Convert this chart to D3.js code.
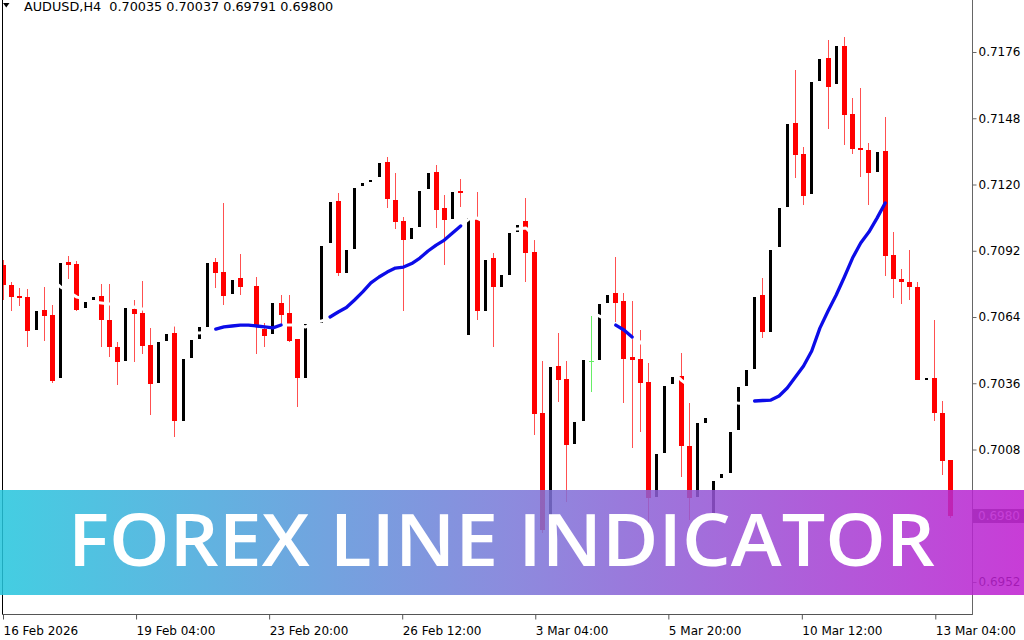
<!DOCTYPE html>
<html><head><meta charset="utf-8">
<script src="https://cdn.jsdelivr.net/npm/d3@7"></script>
<style>html,body{margin:0;padding:0;background:#fff;overflow:hidden}</style>
</head><body><svg id="c" width="1024" height="640"></svg>
<script>
const symbolLabel = "AUDUSD,H4";
const lastOHLC = ["0.70035","0.70037","0.69791","0.69800"];
const bannerText = "FOREX LINE INDICATOR";
const bidPrice = 0.69800;

const opens = [0.70860,0.70775,0.70729,0.70724,0.70585,0.70669,0.70648,0.70382,0.70872,0.70864,
 0.70678,0.70712,0.70729,0.70627,0.70513,0.70454,0.70674,0.70657,0.70522,0.70361,
 0.70539,0.70572,0.70200,0.70467,0.70547,0.70598,0.70872,0.70830,0.70737,0.70805,
 0.70767,0.70771,0.70589,0.70568,0.70699,0.70657,0.70547,0.70382,0.70610,0.70614,
 0.70953,0.71130,0.70826,0.70927,0.71194,0.71210,0.71232,0.71295,0.71134,0.71046,
 0.70970,0.71020,0.71181,0.71253,0.71101,0.71054,0.71172,0.70564,0.71054,0.70665,
 0.70889,0.70767,0.70817,0.70999,0.71046,0.70915,0.70234,0.69739,0.70433,0.70378,
 0.70103,0.70200,0.70454,0.70458,0.70699,0.70741,0.70707,0.70471,0.70462,0.70365,
 0.69879,0.70065,0.70357,0.70391,0.70095,0.69879,0.70192,0.69803,0.69959,0.69980,
 0.70162,0.70348,0.70420,0.70733,0.70576,0.70936,0.71105,0.71460,0.71329,0.71160,
 0.71637,0.71735,0.71625,0.71785,0.71498,0.71354,0.71346,0.71253,0.71342,0.70902,
 0.70800,0.70788,0.70767,0.70374,0.70382,0.70234,0.70035];
const highs = [0.70881,0.70788,0.70762,0.70758,0.70665,0.70767,0.70691,0.70868,0.70898,0.70877,
 0.70703,0.70724,0.70779,0.70779,0.70534,0.70678,0.70712,0.70792,0.70593,0.70534,
 0.70568,0.70614,0.70462,0.70543,0.70598,0.70868,0.70889,0.71122,0.70796,0.70906,
 0.70768,0.70809,0.70614,0.70699,0.70733,0.70733,0.70547,0.70610,0.70613,0.70940,
 0.71126,0.71164,0.70923,0.71185,0.71206,0.71219,0.71291,0.71316,0.71249,0.71063,
 0.71016,0.71172,0.71249,0.71282,0.71156,0.71168,0.71223,0.71058,0.71168,0.70881,
 0.70910,0.70817,0.70995,0.71029,0.71143,0.70965,0.70454,0.70428,0.70572,0.70454,
 0.70196,0.70458,0.70644,0.70695,0.70733,0.70893,0.70741,0.70707,0.70585,0.70445,
 0.70061,0.70348,0.70386,0.70488,0.70276,0.70192,0.70213,0.69947,0.69976,0.70154,
 0.70344,0.70416,0.70724,0.70805,0.70923,0.71101,0.71456,0.71684,0.71359,0.71633,
 0.71730,0.71811,0.71785,0.71823,0.71566,0.71608,0.71375,0.71337,0.71485,0.70999,
 0.70843,0.70923,0.70788,0.70382,0.70627,0.70285,0.70037];
const lows = [0.70712,0.70665,0.70686,0.70513,0.70585,0.70539,0.70361,0.70382,0.70800,0.70665,
 0.70678,0.70712,0.70513,0.70471,0.70352,0.70454,0.70450,0.70483,0.70226,0.70361,
 0.70539,0.70133,0.70200,0.70467,0.70547,0.70598,0.70762,0.70691,0.70737,0.70733,
 0.70767,0.70483,0.70513,0.70568,0.70606,0.70534,0.70259,0.70382,0.70610,0.70614,
 0.70953,0.70813,0.70826,0.70927,0.71194,0.71210,0.71232,0.71101,0.71012,0.70665,
 0.70970,0.71020,0.71181,0.71016,0.70860,0.71054,0.71105,0.70564,0.70627,0.70665,
 0.70513,0.70767,0.70817,0.70999,0.70788,0.70141,0.69727,0.69739,0.70281,0.69858,
 0.70103,0.70200,0.70323,0.70458,0.70699,0.70619,0.70276,0.70086,0.70154,0.69752,
 0.69879,0.70065,0.70357,0.69964,0.69782,0.69879,0.70192,0.69803,0.69959,0.69980,
 0.70162,0.70348,0.70420,0.70551,0.70576,0.70936,0.71105,0.71227,0.71113,0.71160,
 0.71637,0.71434,0.71625,0.71367,0.71329,0.71232,0.71113,0.71253,0.70813,0.70720,
 0.70695,0.70712,0.70374,0.70374,0.70200,0.69972,0.69791];
const closes = [0.70775,0.70724,0.70720,0.70581,0.70665,0.70644,0.70369,0.70868,0.70860,0.70669,
 0.70703,0.70724,0.70627,0.70513,0.70450,0.70678,0.70652,0.70517,0.70357,0.70534,
 0.70568,0.70200,0.70462,0.70543,0.70598,0.70868,0.70826,0.70729,0.70796,0.70767,
 0.70768,0.70598,0.70560,0.70699,0.70648,0.70539,0.70382,0.70610,0.70613,0.70940,
 0.71126,0.70826,0.70923,0.71185,0.71206,0.71219,0.71291,0.71139,0.71041,0.70965,
 0.71016,0.71172,0.71249,0.71092,0.71050,0.71168,0.71164,0.71058,0.70665,0.70881,
 0.70767,0.70817,0.70995,0.71029,0.70910,0.70230,0.69739,0.70428,0.70374,0.70099,
 0.70196,0.70458,0.70454,0.70695,0.70733,0.70699,0.70462,0.70458,0.70361,0.69875,
 0.70061,0.70348,0.70386,0.70095,0.69875,0.70192,0.70213,0.69947,0.69976,0.70154,
 0.70344,0.70416,0.70724,0.70576,0.70923,0.71101,0.71456,0.71325,0.71151,0.71633,
 0.71730,0.71612,0.71785,0.71494,0.71350,0.71346,0.71249,0.71337,0.70898,0.70800,
 0.70788,0.70767,0.70374,0.70382,0.70234,0.70031,0.69800];

// indicator line: "up" segments (blue) and neutral segments (white)
const lineWhite = [null,null,null,null,null,null,
 0.70796,0.70767,0.70746,0.70724,
 0.70716,0.70703,0.70699,0.70695,0.70691,0.70686,0.70682,0.70674,0.70661,0.70644,
 0.70627,0.70606,0.70589,0.70576,0.70572,0.70581,0.70589,
 null,null,null,null,null,null,null,
 0.70606,0.70606,0.70606,0.70598,0.70619,0.70623,0.70640,
 null,null,null,null,null,null,null,null,null,null,null,null,null,null,null,
 0.71025,0.71054,0.71058,0.71041,0.71029,0.71020,0.71012,0.71012,0.71016,0.70982,
 0.70923,0.70860,0.70796,0.70746,0.70712,0.70682,0.70661,0.70644,0.70627,0.70606,
 null,
 0.70555,0.70534,0.70500,0.70467,0.70437,0.70407,0.70374,0.70348,0.70323,0.70306,
 0.70293,0.70285,0.70281,0.70276,0.70276,0.70285,
 null,null,null,null,null,null,null,null,null,null,null,null,
 null,null,null,null,null,null,null,null,null,null,null,null];
const lineBlue = [null,null,null,null,null,null,null,null,null,null,
 null,null,null,null,null,null,null,null,null,null,
 null,null,null,null,null,null,
 0.70589,0.70598,0.70602,0.70606,0.70606,0.70602,0.70598,0.70594,0.70606,
 null,null,null,null,null,
 0.70640,0.70661,0.70680,0.70712,0.70746,0.70784,0.70809,0.70830,0.70847,0.70851,
 0.70866,0.70889,0.70919,0.70944,0.70965,0.70995,0.71025,
 null,null,null,null,null,null,null,null,null,null,null,null,null,null,null,null,null,null,
 0.70606,0.70585,0.70555,
 null,null,null,null,null,null,null,null,null,null,null,null,null,null,
 0.70285,0.70287,0.70289,0.70306,0.70340,0.70386,0.70433,0.70496,0.70593,0.70665,
 0.70733,0.70809,0.70889,0.70953,0.70999,0.71058,0.71122,
 null,null,null,null,null,null,null,null];

const priceTicks = [0.6952,0.6980,0.7008,0.7036,0.7064,0.7092,0.7120,0.7148,0.7176];
const timeTickBars = [0, 16.3, 32.6, 48.9, 65.2, 81.5, 97.85, 114.2];
const timeTickLabels = ["16 Feb 2026","19 Feb 04:00","23 Feb 20:00","26 Feb 12:00","3 Mar 04:00","5 Mar 20:00","10 Mar 12:00","13 Mar 04:00"];

const svg = d3.select("#c");
const font = "'DejaVu Sans', Verdana, sans-serif";
svg.append("rect").attr("width",1024).attr("height",640).attr("fill","#fff");

const x = d3.scaleLinear().domain([0, opens.length-1]).range([3, 950]);
const y = d3.scaleLinear().domain([0.6952, 0.7176]).range([582, 52]);

const defs = svg.append("defs");
defs.append("clipPath").attr("id","plot").append("rect")
  .attr("x",3).attr("y",0).attr("width",969).attr("height",614);
const grad = defs.append("linearGradient").attr("id","bg").attr("x1","0").attr("x2","1").attr("y1","0").attr("y2","0");
grad.append("stop").attr("offset","0").attr("stop-color","#25c6dd");
grad.append("stop").attr("offset","0.5").attr("stop-color","#7a78d8");
grad.append("stop").attr("offset","1").attr("stop-color","#bf1dd0");

const data = opens.map((o,i)=>({i, o, h:highs[i], l:lows[i], c:closes[i]}));
const plot = svg.append("g").attr("clip-path","url(#plot)");
const cg = plot.append("g").attr("shape-rendering","crispEdges");

data.forEach(d=>{
  const cx = Math.round(x(d.i));
  if (d.c < d.o) {
    cg.append("rect").attr("x",cx).attr("width",1)
      .attr("y",y(d.h)).attr("height",Math.max(1,y(d.l)-y(d.h))).attr("fill","#ff5050");
    cg.append("rect").attr("x",cx-2).attr("width",5)
      .attr("y",y(d.o)).attr("height",Math.max(1,y(d.c)-y(d.o))).attr("fill","#ff0000");
  } else if (d.c > d.o) {
    const hgt = y(d.o)-y(d.c);
    if (hgt >= 1) {
      cg.append("rect").attr("x",cx-1).attr("width",3)
        .attr("y",y(d.c)).attr("height",hgt).attr("fill","#000");
    }
  } else {
    cg.append("rect").attr("x",cx).attr("width",1)
      .attr("y",y(d.h)).attr("height",y(d.l)-y(d.h)).attr("fill","#66ee66");
    cg.append("rect").attr("x",cx-2).attr("width",5)
      .attr("y",y(d.o)).attr("height",1).attr("fill","#66ee66");
  }
});

const line = d3.line().defined(v=>v!=null).x((v,i)=>x(i)+0.5).y(v=>y(v));
plot.append("path").attr("d",line(lineWhite)).attr("fill","none")
  .attr("stroke","#fff").attr("stroke-width",3).attr("stroke-linejoin","round");
plot.append("path").attr("d",line(lineBlue)).attr("fill","none")
  .attr("stroke","#0c0ce8").attr("stroke-width",3.3).attr("stroke-linejoin","round").attr("stroke-linecap","round");

// frame
svg.append("line").attr("x1",2.5).attr("x2",2.5).attr("y1",0).attr("y2",614).attr("stroke","#000");
svg.append("line").attr("x1",2).attr("x2",973).attr("y1",614.5).attr("y2",614.5).attr("stroke","#555");
svg.append("line").attr("x1",972.5).attr("x2",972.5).attr("y1",0).attr("y2",615).attr("stroke","#666");

// price axis
const ya = svg.append("g").attr("transform","translate(972.5,0)")
  .call(d3.axisRight(y).tickValues(priceTicks).tickFormat(d3.format(".4f")).tickSize(4).tickPadding(2));
ya.select(".domain").remove();
ya.selectAll(".tick line").attr("stroke","#666");
ya.selectAll("text").attr("font-family",font).attr("font-size",12).attr("fill","#000");

// time axis
const xa = svg.append("g").attr("transform","translate(0,614.5)")
  .call(d3.axisBottom(x).tickValues(timeTickBars).tickFormat((d,i)=>timeTickLabels[i]).tickSize(5));
xa.select(".domain").remove();
xa.selectAll(".tick line").attr("stroke","#555");
xa.selectAll("text").attr("font-family",font).attr("font-size",12).attr("fill","#000")
  .attr("text-anchor","start").attr("x",0).attr("y",12);

// bid price label
svg.append("rect").attr("x",973).attr("y",Math.round(y(bidPrice))-7).attr("width",51).attr("height",14).attr("fill","#5a5a5a");
svg.append("text").attr("x",978).attr("y",y(bidPrice)+4.5).attr("font-family",font).attr("font-size",12)
  .attr("fill","#fff").text(d3.format(".4f")(bidPrice));

// banner
svg.append("rect").attr("x",0).attr("y",490).attr("width",1024).attr("height",105)
  .attr("fill","url(#bg)").attr("opacity",0.86);
svg.append("text").attr("x",68).attr("y",566).attr("font-family","'Open Sans', Lato, sans-serif")
  .attr("font-weight",600).attr("font-size",72).attr("fill","#fff")
  .attr("textLength",867).attr("lengthAdjust","spacingAndGlyphs").text(bannerText);

// header
svg.append("path").attr("d","M3,3 L9.5,3 L6.25,7.5 Z").attr("fill","#000");
svg.append("text").attr("x",24).attr("y",11).attr("font-family",font).attr("font-size",12.8)
  .attr("fill","#000").attr("xml:space","preserve").style("white-space","pre")
  .text(symbolLabel + "  " + lastOHLC.join(" "));
</script>
</body></html>
